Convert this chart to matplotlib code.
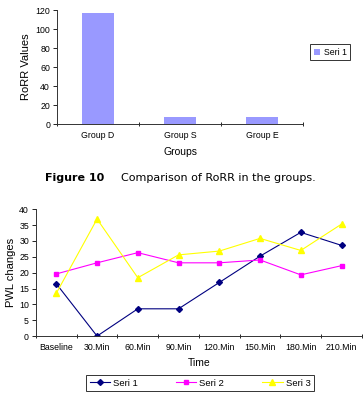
import numpy as np
import matplotlib
matplotlib.use("Agg")
import matplotlib.pyplot as plt

# top chart data
groups = ["Group D", "Group S", "Group E"]
rorr = [117.5, 7, 7]

# bottom chart data
times = ["Baseline", "30.Min", "60.Min", "90.Min", "120.Min", "150.Min", "180.Min", "210.Min"]
seri1 = [16.5, 0, 8.6, 8.6, 16.9, 25.2, 32.7, 28.6]
seri2 = [19.6, 23.1, 26.3, 23.1, 23.1, 24.0, 19.3, 22.2]
seri3 = [13.5, 36.9, 18.4, 25.6, 26.8, 30.8, 27.0, 35.3]

plt.rcParams["font.family"] = ["Liberation Sans", "DejaVu Sans"]

fig = plt.figure(figsize=(3.63, 3.94), dpi=100)

def excel_axes(ax, n):
    for s in ["top", "right"]:
        ax.spines[s].set_visible(False)
    for s in ["left", "bottom"]:
        ax.spines[s].set_color("#333333")
        ax.spines[s].set_linewidth(0.7)
    ax.set_xlim(-0.5, n - 0.5)
    ax.set_xticks(np.arange(n))
    ax.set_xticks(np.arange(n + 1) - 0.5, minor=True)
    ax.tick_params(axis="x", which="major", length=0, labelsize=6.3, pad=5)
    ax.tick_params(axis="x", which="minor", length=3, width=0.6, direction="inout")
    ax.tick_params(axis="y", length=3, width=0.6, labelsize=6.3, pad=2)

# ---- bar chart
ax1 = fig.add_axes([0.157, 0.685, 0.678, 0.289])
x = np.arange(len(groups))
ax1.bar(x, rorr, width=0.4, color="#9999ff", label="Seri 1")
excel_axes(ax1, len(groups))
ax1.set_xticklabels(groups)
ax1.set_ylim(0, 120)
ax1.set_yticks(range(0, 121, 20))
ax1.set_xlabel("Groups", fontsize=7.5, labelpad=5)
ax1.set_ylabel("RoRR Values", fontsize=8, labelpad=3)
ax1.legend(loc="center left", bbox_to_anchor=(1.03, 0.63), fontsize=6.3, frameon=True,
           fancybox=False, edgecolor="black", handlelength=0.7, handleheight=0.7,
           borderpad=0.4, handletextpad=0.4, borderaxespad=0).get_frame().set_linewidth(0.7)

# ---- caption
fig.text(0.124, 0.548, "Figure 10", fontsize=8, fontweight="bold", family="DejaVu Sans", va="center")
fig.text(0.333, 0.548, "Comparison of RoRR in the groups.", fontsize=8, family="DejaVu Sans", va="center")

# ---- line chart
ax2 = fig.add_axes([0.099, 0.147, 0.898, 0.322])
t = np.arange(len(times))
ax2.plot(t, seri1, color="#000080", marker="D", markersize=3, linewidth=0.8, label="Seri 1")
ax2.plot(t, seri2, color="#ff00ff", marker="s", markersize=3.2, linewidth=0.8, label="Seri 2")
ax2.plot(t, seri3, color="#ffff00", marker="^", markersize=3.8, linewidth=0.8, label="Seri 3")
excel_axes(ax2, len(times))
ax2.set_xticklabels(times)
ax2.set_ylim(0, 40)
ax2.set_yticks(range(0, 41, 5))
ax2.set_xlabel("Time", fontsize=7.5, labelpad=4)
ax2.set_ylabel("PWL changes", fontsize=8, labelpad=2)
leg = ax2.legend(loc="upper center", bbox_to_anchor=(0.503, -0.31), ncol=3, fontsize=6.8,
                 frameon=True, fancybox=False, edgecolor="black", handlelength=2.2,
                 borderpad=0.35, columnspacing=4.0, handletextpad=0.3, borderaxespad=0)
leg.get_frame().set_linewidth(0.7)

fig.savefig("out.png", dpi=100)
